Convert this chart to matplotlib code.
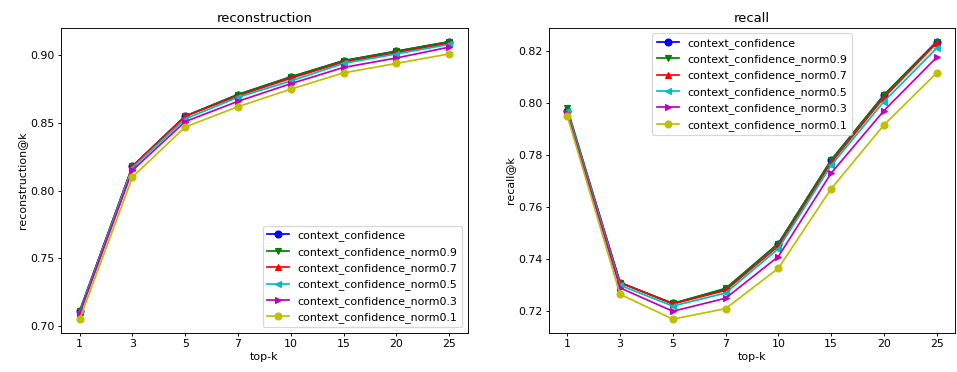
import matplotlib
matplotlib.use("Agg")
import matplotlib.pyplot as plt

plt.rcParams["font.size"] = 9.5

# Data
topk = ["1", "3", "5", "7", "10", "15", "20", "25"]
labels = [
    "context_confidence",
    "context_confidence_norm0.9",
    "context_confidence_norm0.7",
    "context_confidence_norm0.5",
    "context_confidence_norm0.3",
    "context_confidence_norm0.1",
]
styles = ["bo-", "gv-", "r^-", "c<-", "m>-", "yo-"]

reconstruction = [
    [0.711, 0.818, 0.855, 0.871, 0.884, 0.896, 0.903, 0.910],
    [0.711, 0.818, 0.855, 0.871, 0.884, 0.896, 0.903, 0.910],
    [0.710, 0.818, 0.855, 0.870, 0.883, 0.895, 0.902, 0.909],
    [0.710, 0.817, 0.853, 0.869, 0.881, 0.894, 0.901, 0.908],
    [0.709, 0.815, 0.851, 0.866, 0.879, 0.891, 0.898, 0.906],
    [0.705, 0.810, 0.847, 0.862, 0.875, 0.887, 0.894, 0.901],
]

recall = [
    [0.797, 0.731, 0.723, 0.7285, 0.746, 0.778, 0.803, 0.8235],
    [0.798, 0.731, 0.723, 0.7288, 0.746, 0.778, 0.803, 0.8235],
    [0.797, 0.731, 0.7228, 0.728, 0.745, 0.777, 0.802, 0.823],
    [0.797, 0.730, 0.722, 0.727, 0.744, 0.776, 0.8005, 0.821],
    [0.796, 0.729, 0.720, 0.725, 0.741, 0.773, 0.797, 0.8175],
    [0.795, 0.7265, 0.717, 0.721, 0.7365, 0.767, 0.7915, 0.8115],
]

fig, (ax1, ax2) = plt.subplots(1, 2, figsize=(957 / 83, 372 / 83), dpi=83)
x = list(range(len(topk)))

for vals, st, lab in zip(reconstruction, styles, labels):
    ax1.plot(x, vals, st, label=lab)
ax1.set_title("reconstruction", pad=5)
ax1.set_xlabel("top-k", labelpad=2)
ax1.set_ylabel("reconstruction@k", labelpad=3)
ax1.set_xticks(x)
ax1.set_xticklabels(topk)
ax1.set_yticks([0.70, 0.75, 0.80, 0.85, 0.90])
ax1.legend(loc="lower right")

for vals, st, lab in zip(recall, styles, labels):
    ax2.plot(x, vals, st, label=lab)
ax2.set_title("recall", pad=5)
ax2.set_xlabel("top-k", labelpad=2)
ax2.set_ylabel("recall@k", labelpad=3)
ax2.set_xticks(x)
ax2.set_xticklabels(topk)
ax2.set_yticks([0.72, 0.74, 0.76, 0.78, 0.80, 0.82])
ax2.legend(loc="upper center")

for ax in (ax1, ax2):
    ax.tick_params(length=3, pad=2.5)

plt.subplots_adjust(left=0.064, right=0.998, top=0.925, bottom=0.105, wspace=0.2)
plt.savefig("out.png", dpi=83)
